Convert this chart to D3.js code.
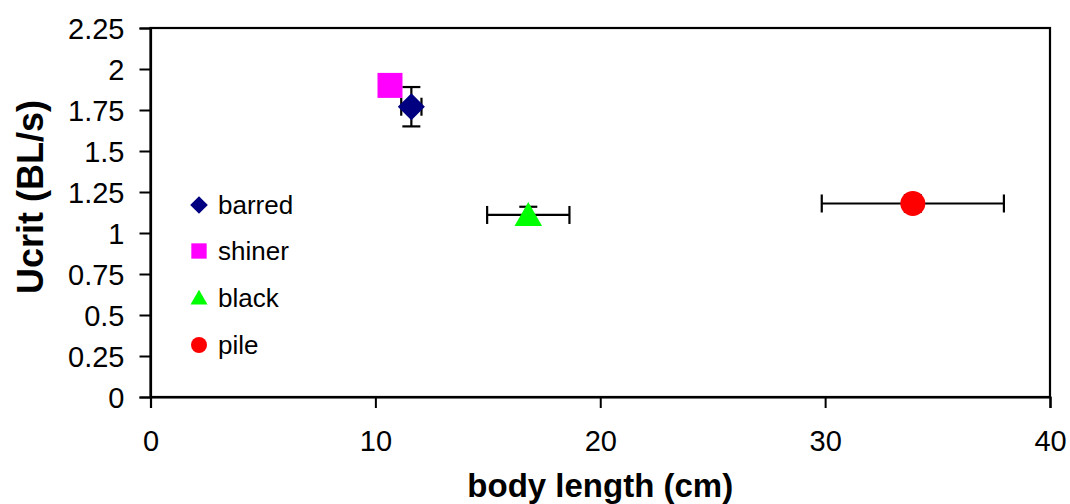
<!DOCTYPE html>
<html>
<head>
<meta charset="utf-8">
<script src="https://cdn.jsdelivr.net/npm/d3@7"></script>
<style>
  html, body { margin: 0; padding: 0; background: #fff; }
  svg { display: block; font-family: "Liberation Sans", Arial, sans-serif; }
</style>
</head>
<body>
<svg id="chart" width="1070" height="504"></svg>
<script>
// Species measured
const species = ["barred", "shiner", "black", "pile"];
// Mean body length (cm) and its error half-width
const bodyLength = [11.6, 10.65, 16.8, 33.9];
const bodyLengthErr = [0.45, 0, 1.83, 4.05];
// Mean critical swimming speed (body lengths per second) and its error half-width
const ucrit = [1.77, 1.9, 1.11, 1.18];
const ucritErr = [0.12, 0, 0.05, 0.05];
// Marker styling per species
const colors = ["#000080", "#ff00ff", "#00ff00", "#ff0000"];
const symbols = [d3.symbolDiamond, d3.symbolSquare, d3.symbolTriangle, d3.symbolCircle];
const markerArea = [365, 625, 330, 490];
const legendArea = [155, 235, 125, 201];
// Axis ticks
const xTicks = [0, 10, 20, 30, 40];
const yTicks = [0, 0.25, 0.5, 0.75, 1, 1.25, 1.5, 1.75, 2, 2.25];

const svg = d3.select("#chart");
const plotLeft = 150.5, plotRight = 1050, plotTop = 28, plotBottom = 397;

const x = d3.scaleLinear().domain([0, 40]).range([plotLeft, plotRight]);
const y = d3.scaleLinear().domain([0, 2.25]).range([plotBottom, plotTop]);

// plot frame
svg.append("rect")
  .attr("x", plotLeft).attr("y", plotTop)
  .attr("width", plotRight - plotLeft).attr("height", plotBottom - plotTop)
  .attr("fill", "none").attr("stroke", "#000").attr("stroke-width", 2.2);

const xAxis = svg.append("g")
  .attr("transform", `translate(0,${plotBottom})`)
  .call(d3.axisBottom(x).tickValues(xTicks).tickFormat(d3.format("d")).tickSize(11).tickPadding(22));
const yAxis = svg.append("g")
  .attr("transform", `translate(${plotLeft},0)`)
  .call(d3.axisLeft(y).tickValues(yTicks).tickFormat(d => String(d)).tickSize(11).tickPadding(15));

[xAxis, yAxis].forEach(g => {
  g.select(".domain").attr("stroke", "#000").attr("stroke-width", 2.2);
  g.selectAll(".tick line").attr("stroke", "#000").attr("stroke-width", 2);
  g.selectAll(".tick text")
    .attr("fill", "#000")
    .style("font-size", "29px")
    .style("font-family", "'Liberation Sans', Arial, sans-serif");
});
yAxis.selectAll(".tick text").attr("dy", "0.35em");

// axis titles
svg.append("text")
  .attr("x", (plotLeft + plotRight) / 2).attr("y", 497)
  .attr("text-anchor", "middle")
  .style("font-size", "33px").style("font-weight", "bold")
  .text("body length (cm)");
svg.append("text")
  .attr("transform", `translate(43,197) rotate(-90)`)
  .attr("text-anchor", "middle")
  .style("font-size", "36px").style("font-weight", "bold")
  .text("Ucrit (BL/s)");

// error bars
const cap = 9;
const err = svg.append("g").attr("stroke", "#000").attr("stroke-width", 2.2).attr("fill", "none");
species.forEach((s, i) => {
  const cx = x(bodyLength[i]), cy = y(ucrit[i]);
  if (bodyLengthErr[i] > 0) {
    const x0 = x(bodyLength[i] - bodyLengthErr[i]), x1 = x(bodyLength[i] + bodyLengthErr[i]);
    err.append("line").attr("x1", x0).attr("x2", x1).attr("y1", cy).attr("y2", cy);
    err.append("line").attr("x1", x0).attr("x2", x0).attr("y1", cy - cap).attr("y2", cy + cap);
    err.append("line").attr("x1", x1).attr("x2", x1).attr("y1", cy - cap).attr("y2", cy + cap);
  }
  if (ucritErr[i] > 0) {
    const y0 = y(ucrit[i] - ucritErr[i]), y1 = y(ucrit[i] + ucritErr[i]);
    err.append("line").attr("x1", cx).attr("x2", cx).attr("y1", y0).attr("y2", y1);
    err.append("line").attr("x1", cx - cap).attr("x2", cx + cap).attr("y1", y0).attr("y2", y0);
    err.append("line").attr("x1", cx - cap).attr("x2", cx + cap).attr("y1", y1).attr("y2", y1);
  }
});

// markers (diamond drawn as a rotated square)
function markerPath(i, area) {
  const type = symbols[i] === d3.symbolDiamond ? d3.symbolSquare : symbols[i];
  return d3.symbol().type(type).size(area)();
}
species.forEach((s, i) => {
  const dyShift = symbols[i] === d3.symbolTriangle ? 3 : 0;
  svg.append("path")
    .attr("d", markerPath(i, markerArea[i]))
    .attr("transform", `translate(${x(bodyLength[i])},${y(ucrit[i]) + dyShift})` + (symbols[i] === d3.symbolDiamond ? " rotate(45)" : ""))
    .attr("fill", colors[i]);
});

// legend
const legendY = [205, 251, 298, 345];
species.forEach((s, i) => {
  const dyShift = symbols[i] === d3.symbolTriangle ? 1.5 : 0;
  svg.append("path")
    .attr("d", markerPath(i, legendArea[i]))
    .attr("transform", `translate(199,${legendY[i] + dyShift})` + (symbols[i] === d3.symbolDiamond ? " rotate(45)" : ""))
    .attr("fill", colors[i]);
  svg.append("text")
    .attr("x", 218).attr("y", legendY[i])
    .attr("dy", "0.35em")
    .style("font-size", "26px")
    .text(s);
});
</script>
</body>
</html>
